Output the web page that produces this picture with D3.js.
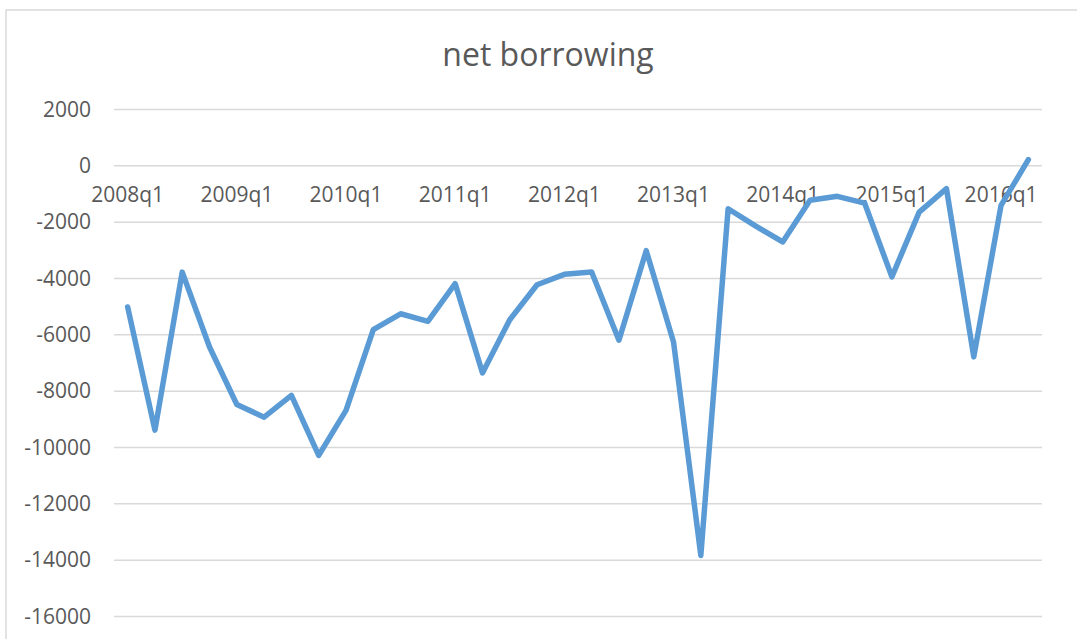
<!DOCTYPE html>
<html>
<head>
<meta charset="utf-8">
<script src="https://cdn.jsdelivr.net/npm/d3@7"></script>
<style>
    body { margin: 0; background: #ffffff; }
    text { font-family: "Open Sans", sans-serif; fill: #595959; }
</style>
</head>
<body>
<svg id="drawing_region"></svg>
<script>
const quarters = [
    '2008q1','2008q2','2008q3','2008q4',
    '2009q1','2009q2','2009q3','2009q4',
    '2010q1','2010q2','2010q3','2010q4',
    '2011q1','2011q2','2011q3','2011q4',
    '2012q1','2012q2','2012q3','2012q4',
    '2013q1','2013q2','2013q3','2013q4',
    '2014q1','2014q2','2014q3','2014q4',
    '2015q1','2015q2','2015q3','2015q4',
    '2016q1','2016q2'
];
const borrowing = [
    -5030, -9400, -3790, -6450,
    -8490, -8940, -8170, -10300,
    -8700, -5830, -5270, -5540,
    -4200, -7370, -5480, -4240,
    -3870, -3790, -6210, -3030,
    -6270, -13850, -1540, -2150,
    -2720, -1240, -1100, -1340,
    -3960, -1660, -830, -6800,
    -1420, 200
];
const yTicks = [2000, 0, -2000, -4000, -6000, -8000, -10000, -12000, -14000, -16000];

class LineChart {
    constructor(config, labels, values) {
        this.config = config;
        this.labels = labels;
        this.values = values;
        this.init();
    }

    init() {
        let self = this;
        const m = self.config.margin;

        self.svg = d3.select(self.config.parent)
            .attr('width', self.config.width)
            .attr('height', self.config.height);

        // chart frame (runs off the right and bottom edge)
        self.svg.append('rect')
            .attr('x', 6).attr('y', 10)
            .attr('width', 1200).attr('height', 800)
            .attr('fill', 'none')
            .attr('stroke', '#d9d9d9')
            .attr('stroke-width', 1.5);

        self.svg.append('text')
            .attr('x', 548).attr('y', 66)
            .attr('text-anchor', 'middle')
            .attr('font-size', '32px')
            .text(self.config.title);

        self.x = d3.scaleBand()
            .domain(self.labels)
            .range([m.left, self.config.width - m.right]);

        self.y = d3.scaleLinear()
            .domain([-16000, 2000])
            .range([self.config.height - m.bottom, m.top]);
    }

    render() {
        let self = this;
        const m = self.config.margin;

        // horizontal grid
        self.svg.append('g')
            .attr('transform', `translate(${m.left},0)`)
            .call(d3.axisLeft(self.y).tickValues(yTicks).tickSize(-(self.config.width - m.left - m.right)).tickFormat(''))
            .call(g => g.select('.domain').remove())
            .call(g => g.selectAll('line').attr('stroke', '#d9d9d9').attr('stroke-width', 1.5));

        // y labels
        self.svg.append('g')
            .selectAll('text')
            .data(yTicks)
            .join('text')
            .attr('x', 91)
            .attr('y', d => self.y(d))
            .attr('dy', '0.36em')
            .attr('text-anchor', 'end')
            .attr('font-size', '21px')
            .text(d => d);

        // x labels sit under the zero line
        const xAxis = self.svg.append('g')
            .attr('transform', `translate(0,${self.y(0)})`)
            .call(d3.axisBottom(self.x).tickValues(self.labels.filter(d => d.endsWith('q1'))).tickSize(0).tickPadding(22));
        xAxis.select('.domain').remove();
        xAxis.selectAll('text')
            .attr('font-size', '21px')
            .attr('font-family', '"Open Sans", sans-serif')
            .attr('fill', '#595959');

        const line = d3.line()
            .x((d, i) => self.x(self.labels[i]) + self.x.bandwidth() / 2)
            .y(d => self.y(d));

        self.svg.append('path')
            .datum(self.values)
            .attr('d', line)
            .attr('fill', 'none')
            .attr('stroke', '#5b9bd5')
            .attr('stroke-width', 5.5)
            .attr('stroke-linejoin', 'round')
            .attr('stroke-linecap', 'round');
    }
}

const chart = new LineChart({
    parent: '#drawing_region',
    width: 1077,
    height: 639,
    margin: {top: 109, right: 35, bottom: 23, left: 114},
    title: 'net borrowing'
}, quarters, borrowing);
chart.render();
</script>
</body>
</html>
